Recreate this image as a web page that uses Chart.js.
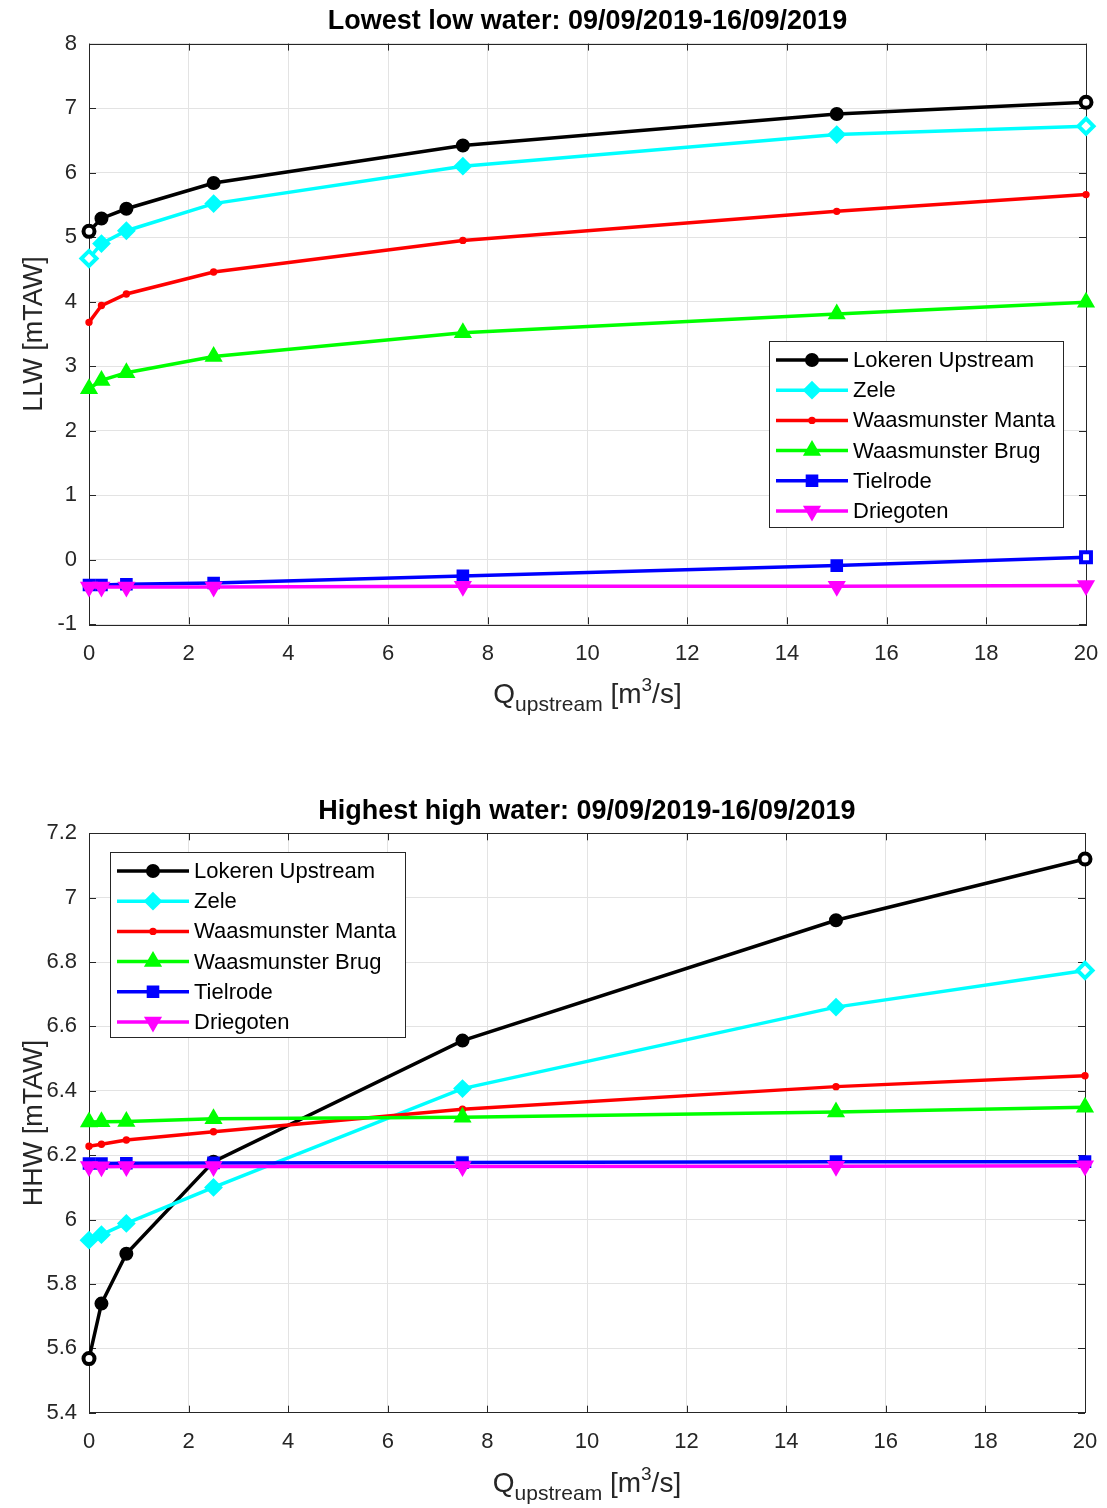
<!doctype html>
<html>
<head>
  <meta charset="utf-8" />
  <title>LLW / HHW vs Q upstream</title>
  <script src="https://cdn.jsdelivr.net/npm/chart.js@4.4.0/dist/chart.umd.min.js"></script>
  <style>
    body { margin:0; background:#fff; height:1508px; }
    .panel { position:absolute; left:0; width:1107px; height:754px; }
  </style>
</head>
<body>
<div class="panel" style="top:0"><canvas id="llwChart" width="1107" height="754"></canvas></div>
<div class="panel" style="top:754px"><canvas id="hhwChart" width="1107" height="754"></canvas></div>

<script>
const FONT = '"Liberation Sans", Arial, Helvetica, sans-serif';

// x values and ticks
const qUpstream = [0, 0.25, 0.75, 2.5, 7.5, 15, 20];
const qTicks = [0, 2, 4, 6, 8, 10, 12, 14, 16, 18, 20];
const llwTicks = [-1, 0, 1, 2, 3, 4, 5, 6, 7, 8];
const hhwTicks = [5.4, 5.6, 5.8, 6, 6.2, 6.4, 6.6, 6.8, 7, 7.2];

const stations = ['Lokeren Upstream', 'Zele', 'Waasmunster Manta', 'Waasmunster Brug', 'Tielrode', 'Driegoten'];

// lowest low water [mTAW]
const llwLokeren   = [5.09, 5.29, 5.44, 5.84, 6.42, 6.91, 7.09];
const llwZele      = [4.67, 4.90, 5.10, 5.52, 6.10, 6.59, 6.72];
const llwManta     = [3.68, 3.94, 4.12, 4.46, 4.95, 5.40, 5.66];
const llwBrug      = [2.65, 2.78, 2.90, 3.15, 3.52, 3.81, 3.99];
const llwTielrode  = [-0.39, -0.39, -0.38, -0.36, -0.25, -0.09, 0.04];
const llwDriegoten = [-0.42, -0.42, -0.42, -0.42, -0.41, -0.41, -0.40];

// highest high water [mTAW]
const hhwLokeren   = [5.568, 5.739, 5.894, 6.180, 6.556, 6.930, 7.120];
const hhwZele      = [5.936, 5.953, 5.988, 6.100, 6.407, 6.660, 6.774];
const hhwManta     = [6.228, 6.234, 6.247, 6.273, 6.343, 6.413, 6.447];
const hhwBrug      = [6.303, 6.304, 6.305, 6.313, 6.318, 6.334, 6.349];
const hhwTielrode  = [6.174, 6.174, 6.175, 6.176, 6.177, 6.180, 6.180];
const hhwDriegoten = [6.165, 6.164, 6.165, 6.165, 6.165, 6.166, 6.167];

// styles
const seriesColors = ['#000000', '#00ffff', '#ff0000', '#00ff00', '#0000ff', '#ff00ff'];
const seriesMarkers = [
  {style: 'circle',   radius: 6,   rotation: 0},
  {style: 'rectRot',  radius: 8,   rotation: 0},
  {style: 'circle',   radius: 2.7, rotation: 0},
  {style: 'triangle', radius: 8.5, rotation: 0},
  {style: 'rect',     radius: 7.5, rotation: 0},
  {style: 'triangle', radius: 8.5, rotation: 180}
];

function drawMarker(ctx, m, x, y, fill, stroke, bw) {
  const r = m.radius;
  ctx.save();
  ctx.translate(x, y);
  ctx.rotate(m.rotation * Math.PI / 180);
  ctx.beginPath();
  if (m.style === 'circle') {
    ctx.arc(0, 0, r, 0, 2 * Math.PI);
  } else if (m.style === 'rectRot') {
    ctx.moveTo(0, -r); ctx.lineTo(r, 0); ctx.lineTo(0, r); ctx.lineTo(-r, 0); ctx.closePath();
  } else if (m.style === 'rect') {
    const s = r * Math.SQRT1_2;
    ctx.rect(-s, -s, 2 * s, 2 * s);
  } else if (m.style === 'triangle') {
    for (let k = 0; k < 3; k++) {
      const a = k * 2 * Math.PI / 3;
      const px = Math.sin(a) * r, py = -Math.cos(a) * r;
      if (k === 0) ctx.moveTo(px, py); else ctx.lineTo(px, py);
    }
    ctx.closePath();
  }
  ctx.fillStyle = fill;
  ctx.fill();
  ctx.lineWidth = bw;
  ctx.strokeStyle = stroke;
  ctx.stroke();
  ctx.restore();
}

// box, inner ticks, Q label with sub/superscript, legend inside axes
const matlabAxes = {
  id: 'matlabAxes',
  beforeDatasetsDraw(chart) {
    const ctx = chart.ctx, a = chart.chartArea;
    const xs = chart.scales.x, ys = chart.scales.y;
    ctx.save();
    ctx.strokeStyle = '#262626';
    ctx.lineWidth = 1;
    ctx.beginPath();
    xs.ticks.forEach(t => {
      const px = Math.round(xs.getPixelForValue(t.value)) + 0.5;
      ctx.moveTo(px, a.bottom); ctx.lineTo(px, a.bottom - 7);
      ctx.moveTo(px, a.top); ctx.lineTo(px, a.top + 7);
    });
    ys.ticks.forEach(t => {
      const py = Math.round(ys.getPixelForValue(t.value)) + 0.5;
      ctx.moveTo(a.left, py); ctx.lineTo(a.left + 7, py);
      ctx.moveTo(a.right, py); ctx.lineTo(a.right - 7, py);
    });
    ctx.stroke();
    ctx.strokeRect(Math.round(a.left) + 0.5, Math.round(a.top) + 0.5,
                   Math.round(a.right - a.left), Math.round(a.bottom - a.top));
    ctx.restore();
  },
  afterDraw(chart, args, opts) {
    const ctx = chart.ctx, a = chart.chartArea;
    ctx.save();
    // x label: Q_upstream [m^3/s]
    const big = '28px ' + FONT, small = '21px ' + FONT, sup = '19px ' + FONT;
    const parts = [
      {t: 'Q', f: big, dy: 0},
      {t: 'upstream', f: small, dy: 8},
      {t: ' [m', f: big, dy: 0},
      {t: '3', f: sup, dy: -12},
      {t: '/s]', f: big, dy: 0}
    ];
    let total = 0;
    parts.forEach(p => { ctx.font = p.f; p.w = ctx.measureText(p.t).width; total += p.w; });
    let x = (a.left + a.right) / 2 - total / 2;
    const base = a.bottom + 79;
    ctx.fillStyle = '#262626';
    ctx.textBaseline = 'alphabetic';
    ctx.textAlign = 'left';
    parts.forEach(p => { ctx.font = p.f; ctx.fillText(p.t, x, base + p.dy); x += p.w; });

    // legend
    const L = opts.legend;
    ctx.fillStyle = '#ffffff';
    ctx.fillRect(L.x, L.y, L.w, L.h);
    ctx.strokeStyle = '#262626';
    ctx.lineWidth = 1;
    ctx.strokeRect(L.x + 0.5, L.y + 0.5, L.w, L.h);
    ctx.font = '22px ' + FONT;
    ctx.textBaseline = 'middle';
    chart.data.datasets.forEach((ds, i) => {
      const cy = L.y + 19 + i * 30.2;
      ctx.strokeStyle = ds.borderColor;
      ctx.lineWidth = 3.5;
      ctx.beginPath();
      ctx.moveTo(L.x + 7, cy); ctx.lineTo(L.x + 79, cy);
      ctx.stroke();
      drawMarker(ctx, seriesMarkers[i], L.x + 43, cy, ds.borderColor, ds.borderColor, 2);
      ctx.fillStyle = '#000000';
      ctx.fillText(ds.label, L.x + 84, cy + 1);
    });
    ctx.restore();
  }
};

function makeChart(id, cfg) {
  const datasets = stations.map((name, i) => {
    const hollow = cfg.hollow[i] || [];
    return {
      label: name,
      data: qUpstream.map((q, k) => ({x: q, y: cfg.values[i][k]})),
      borderColor: seriesColors[i],
      backgroundColor: seriesColors[i],
      borderWidth: 3.5,
      pointStyle: seriesMarkers[i].style,
      pointRotation: seriesMarkers[i].rotation,
      pointRadius: qUpstream.map((q, k) => hollow.includes(k) ? seriesMarkers[i].radius - 0.5 : seriesMarkers[i].radius),
      pointBorderWidth: qUpstream.map((q, k) => hollow.includes(k) ? 4 : 2),
      pointBackgroundColor: qUpstream.map((q, k) => hollow.includes(k) ? '#ffffff' : seriesColors[i]),
      pointBorderColor: seriesColors[i],
      tension: 0,
      clip: false,
      order: stations.length - i
    };
  });

  return new Chart(document.getElementById(id), {
    type: 'line',
    data: { datasets: datasets },
    plugins: [matlabAxes],
    options: {
      responsive: false,
      animation: false,
      events: [],
      layout: { padding: { left: 0, right: cfg.padRight, top: 0, bottom: 0 } },
      plugins: {
        legend: { display: false },
        tooltip: { enabled: false },
        title: {
          display: true, text: cfg.title, fullSize: false, color: '#000000',
          font: { family: FONT, size: 27, weight: 'bold' },
          padding: { top: cfg.titleTop, bottom: cfg.titleBottom }
        },
        matlabAxes: { legend: cfg.legend }
      },
      scales: {
        x: {
          type: 'linear', min: 0, max: 20,
          afterBuildTicks: s => { s.ticks = qTicks.map(v => ({value: v})); },
          afterFit: s => { s.height = cfg.xAxisHeight; s.paddingLeft = 0; s.paddingRight = 0; },
          grid: { color: '#e3e3e3', lineWidth: 1, drawTicks: false },
          border: { display: false },
          ticks: {
            font: { family: FONT, size: 22 }, color: '#262626', padding: 16,
            maxRotation: 0, autoSkip: false, callback: v => String(v)
          }
        },
        y: {
          type: 'linear', min: cfg.yTicks[0], max: cfg.yTicks[cfg.yTicks.length - 1],
          afterBuildTicks: s => { s.ticks = cfg.yTicks.map(v => ({value: v})); },
          afterFit: s => { s.width = 89; s.paddingTop = 0; s.paddingBottom = 0; },
          grid: { color: '#e3e3e3', lineWidth: 1, drawTicks: false },
          border: { display: false },
          ticks: {
            font: { family: FONT, size: 22 }, color: '#262626', padding: 12,
            autoSkip: false, callback: v => String(v)
          },
          title: {
            display: true, text: cfg.yLabel, color: '#262626',
            font: { family: FONT, size: 27 }, padding: { top: 18, bottom: 0 }
          }
        }
      }
    }
  });
}

makeChart('llwChart', {
  title: 'Lowest low water: 09/09/2019-16/09/2019',
  yLabel: 'LLW [mTAW]',
  yTicks: llwTicks,
  values: [llwLokeren, llwZele, llwManta, llwBrug, llwTielrode, llwDriegoten],
  hollow: [[0, 6], [0, 6], [], [], [6], []],
  titleTop: 5, titleBottom: 6.2,
  xAxisHeight: 129.7,
  padRight: 21,
  legend: { x: 769, y: 341, w: 294, h: 186 }
});

makeChart('hhwChart', {
  title: 'Highest high water: 09/09/2019-16/09/2019',
  yLabel: 'HHW [mTAW]',
  yTicks: hhwTicks,
  values: [hhwLokeren, hhwZele, hhwManta, hhwBrug, hhwTielrode, hhwDriegoten],
  hollow: [[0, 6], [6], [], [], [], []],
  titleTop: 41.5, titleBottom: 5.4,
  xAxisHeight: 95.3,
  padRight: 22,
  legend: { x: 110, y: 98, w: 295, h: 185 }
});
</script>
</body>
</html>
